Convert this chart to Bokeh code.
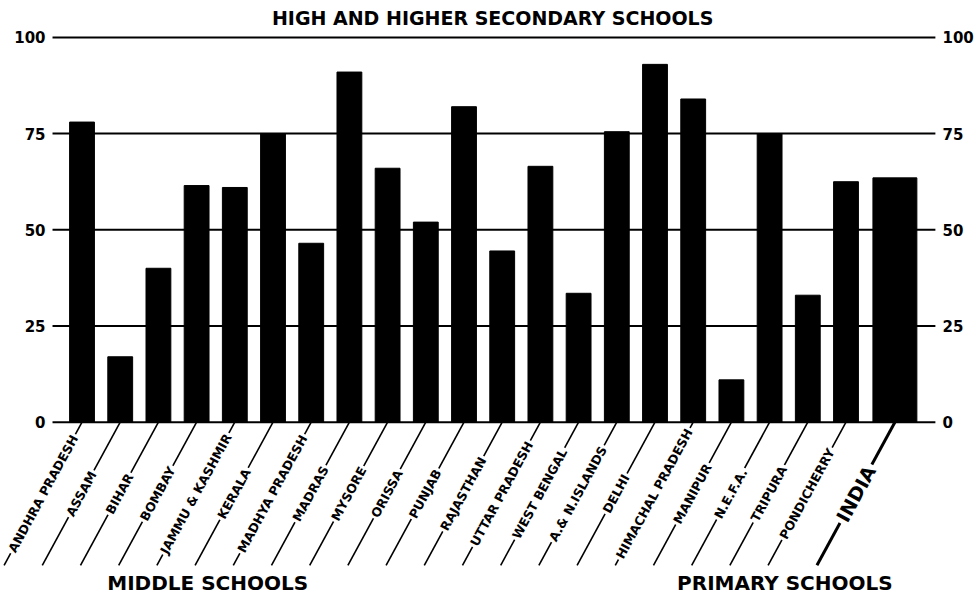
import math
from bokeh.plotting import figure
from bokeh.models import ColumnDataSource, Range1d
from bokeh.core.properties import value
from bokeh.embed import file_html
from bokeh.resources import INLINE

# ---- data ----
states = ["ANDHRA PRADESH", "ASSAM", "BIHAR", "BOMBAY", "JAMMU & KASHMIR", "KERALA",
          "MADHYA PRADESH", "MADRAS", "MYSORE", "ORISSA", "PUNJAB", "RAJASTHAN",
          "UTTAR PRADESH", "WEST BENGAL", "A.& N.ISLANDS", "DELHI", "HIMACHAL PRADESH",
          "MANIPUR", "N.E.F.A.", "TRIPURA", "PONDICHERRY"]
state_values = [78, 17, 40, 61.5, 61, 75, 46.5, 91, 66, 52, 82, 44.5,
                66.5, 33.5, 75.5, 93, 84, 11, 75, 33, 62.5]
total_label = "INDIA"
total_value = 63.5
y_ticks = [0, 25, 50, 75, 100]
tick_labels = ["0", "25", "50", "75", "100"]
title_text = "HIGH AND HIGHER SECONDARY SCHOOLS"
left_note = "MIDDLE SCHOOLS"
right_note = "PRIMARY SCHOOLS"

# ---- layout helpers (styling) ----
n = len(states)
gap = 0.28
state_x = list(range(n))
total_x = n + gap
grid_lo, grid_hi = -0.772, 22.34       # extent of the scale rules
lab_lo, lab_hi = -0.955, 22.526        # where the scale numbers sit

FONT = "DejaVu Sans"

p = figure(width=980, height=597, output_backend="svg", toolbar_location=None,
           x_range=Range1d(-2.134, 23.521), y_range=Range1d(-45.57, 109.6),
           x_axis_location=None, y_axis_location=None,
           min_border_left=0, min_border_right=0, min_border_top=0, min_border_bottom=0)
p.outline_line_color = None
p.background_fill_color = "white"
p.border_fill_color = "white"
p.grid.visible = False

# scale rules and numbers (both sides)
k = len(y_ticks)
p.segment(x0=[grid_lo] * k, y0=y_ticks, x1=[grid_hi] * k, y1=y_ticks, line_color="black", line_width=2)
p.text(x=[lab_lo] * k, y=y_ticks, text=tick_labels, text_align="right", text_baseline="middle",
       text_font=value(FONT), text_font_style="bold", text_font_size="15px", text_color="black")
p.text(x=[lab_hi] * k, y=y_ticks, text=tick_labels, text_align="left", text_baseline="middle",
       text_font=value(FONT), text_font_style="bold", text_font_size="15px", text_color="black")

# leader lines with labels
dx = -2.04
dy = -37.2
angle = math.atan2(143, 78)

ssrc = ColumnDataSource(dict(x0=state_x, y0=[0] * n, x1=[x + dx for x in state_x], y1=[dy] * n,
                             tx=[x + dx / 2 for x in state_x], ty=[dy / 2] * n, label=states))
p.segment(x0="x0", y0="y0", x1="x1", y1="y1", line_width=1.6, line_color="black", source=ssrc)
p.text(x="tx", y="ty", text="label", angle=angle, text_align="center", text_baseline="middle",
       text_font=value(FONT), text_font_style="bold", text_font_size="12.5px", text_color="black",
       background_fill_color="white", padding=2, source=ssrc)

tsrc = ColumnDataSource(dict(x0=[total_x], y0=[0], x1=[total_x + dx], y1=[dy],
                             tx=[total_x + dx / 2], ty=[dy / 2], label=[total_label]))
p.segment(x0="x0", y0="y0", x1="x1", y1="y1", line_width=3, line_color="black", source=tsrc)
p.text(x="tx", y="ty", text="label", angle=angle, text_align="center", text_baseline="middle",
       text_font=value(FONT), text_font_style="bold", text_font_size="19px", text_color="black",
       background_fill_color="white", padding=3, source=tsrc)

# bars
p.vbar(x=state_x, top=state_values, bottom=0, width=0.65, fill_color="black", line_color="black")
p.vbar(x=[total_x], top=[total_value], bottom=0, width=1.15, fill_color="black", line_color="black")

# title and notes
p.text(x=[10.75], y=[105], text=[title_text], text_align="center", text_baseline="middle",
       text_font=value(FONT), text_font_style="bold", text_font_size="19px", text_color="black")
p.text(x=[3.29, 18.4], y=[-41.7, -41.7], text=[left_note, right_note], text_align="center",
       text_baseline="middle", text_font=value(FONT), text_font_style="bold",
       text_font_size="20px", text_color="black")

open("out.html", "w").write(file_html(p, INLINE))
